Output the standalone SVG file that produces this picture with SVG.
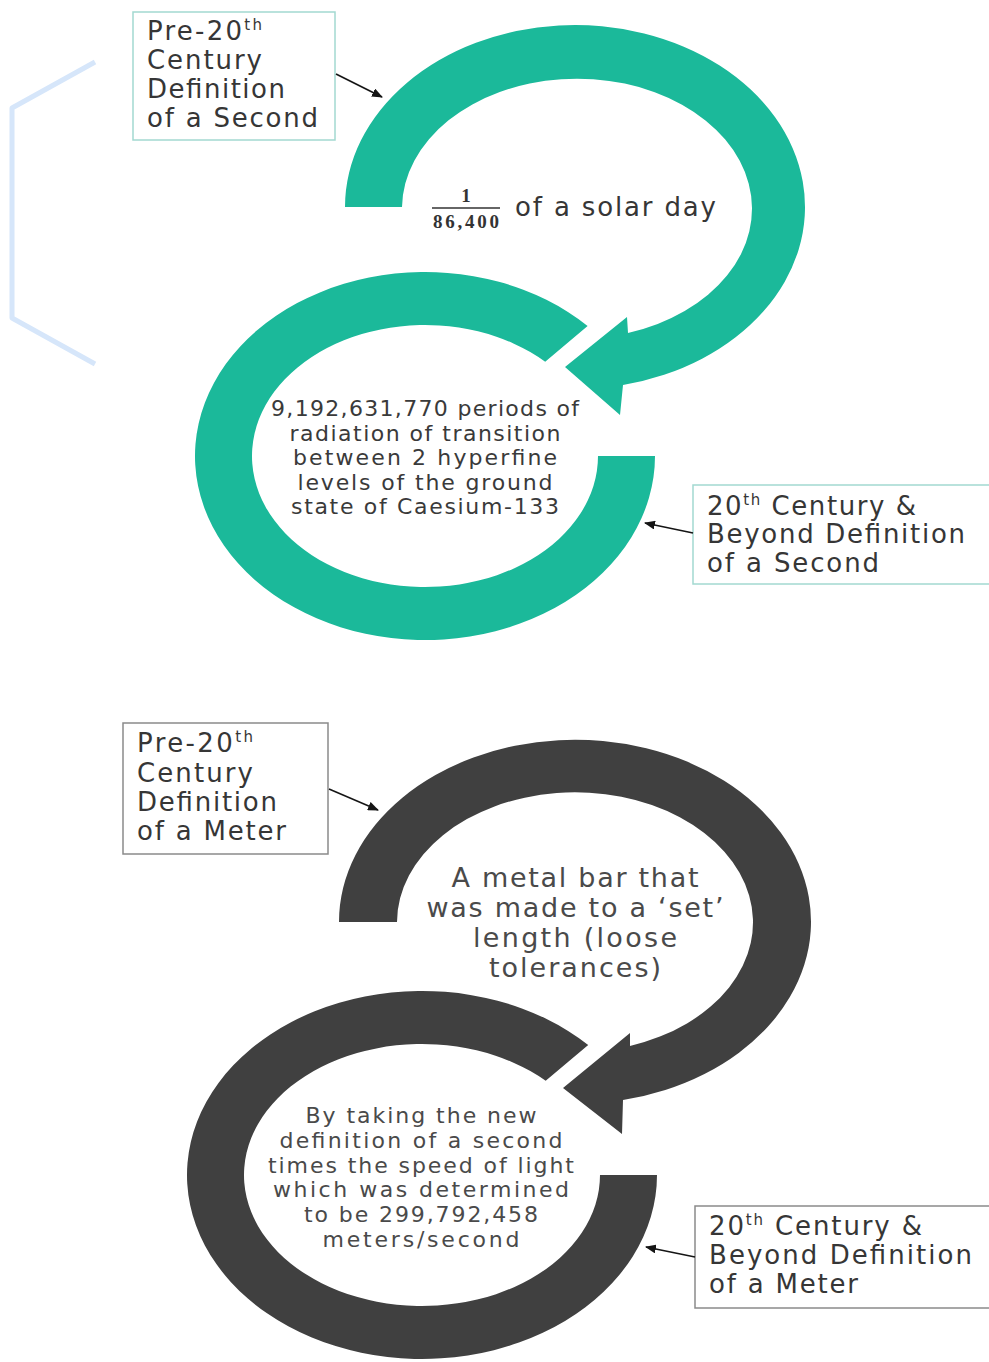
<svg xmlns="http://www.w3.org/2000/svg" width="989" height="1362" viewBox="0 0 989 1362">
<defs>
<style>
.bg{fill:#ffffff}
.teal{fill:#1bb99a}
.gray{fill:#404040}
.boxT{fill:#ffffff;stroke:#a3d9d1;stroke-width:1.5}
.boxG{fill:#ffffff;stroke:#8a8a8a;stroke-width:1.5}
.lbl{font-family:"DejaVu Sans","Liberation Sans",sans-serif;font-size:26px;fill:#363636}
.body{font-family:"DejaVu Sans","Liberation Sans",sans-serif;fill:#3a3a3a;text-anchor:middle}
.gbody{font-family:"DejaVu Sans","Liberation Sans",sans-serif;fill:#4a4a4a;text-anchor:middle}
.sup{font-size:15px}
.frac{font-family:"Liberation Serif","DejaVu Serif",serif;font-weight:bold;font-size:19px;fill:#333;text-anchor:middle}
.conn{stroke:#151515;stroke-width:1.6;fill:none;marker-end:url(#ah)}
.hex{fill:none;stroke:#d6e6fa;stroke-width:5;stroke-linejoin:round}
</style>
<marker id="ah" markerUnits="userSpaceOnUse" markerWidth="11" markerHeight="9" refX="10" refY="4.5" orient="auto">
<path d="M0,0 L11,4.5 L0,9 z" fill="#151515"/>
</marker>
</defs>
<rect class="bg" x="0" y="0" width="989" height="1362"/>

<polyline class="hex" points="95,62 12,108 12,318 95,364"/>

<g id="ring-second-pre">
<path class="teal" d="M345,207 A230 182 0 1 1 623,385 L620,415 L565,367 L627,317 L628,333 A175 130 0 1 0 402,207 Z"/>
</g>
<g id="ring-second-modern">
<path class="teal" d="M587.6,325.9 A230 184 0 1 0 655,456 L598,456 A173 131 0 1 1 545.2,361.8 Z"/>
</g>
<g id="ring-meter-pre">
<path class="gray" d="M339,922 A236 182 0 1 1 623,1100 L622,1134 L563,1088 L630,1033 L630,1046 A178 130 0 1 0 397,922 Z"/>
</g>
<g id="ring-meter-modern">
<path class="gray" d="M588.2,1044.9 A235 184 0 1 0 657,1175 L600,1175 A178 131 0 1 1 545.7,1080.8 Z"/>
</g>

<g id="label-second-pre">
<rect class="boxT" x="133" y="12" width="202" height="128"/>
<text class="lbl" x="147" y="40" textLength="115" lengthAdjust="spacing">Pre-20<tspan class="sup" dy="-10">th</tspan></text>
<text class="lbl" x="147" y="69" textLength="115" lengthAdjust="spacing">Century</text>
<text class="lbl" x="147" y="98" textLength="138" lengthAdjust="spacing">Definition</text>
<text class="lbl" x="147" y="127" textLength="171" lengthAdjust="spacing">of a Second</text>
</g>

<g id="text-solar-day">
<text class="frac" x="466" y="202">1</text>
<line x1="432" y1="208" x2="500" y2="208" stroke="#333" stroke-width="1.6"/>
<text class="frac" x="466" y="228" textLength="66" lengthAdjust="spacing">86,400</text>
<text class="lbl" x="515" y="216" font-size="28" textLength="201" lengthAdjust="spacing" fill="#3a3a3a">of a solar day</text>
</g>

<g id="text-caesium">
<text class="body" font-size="22" x="425" y="416" textLength="308" lengthAdjust="spacing">9,192,631,770 periods of</text>
<text class="body" font-size="22" x="425" y="440.5" textLength="271" lengthAdjust="spacing">radiation of transition</text>
<text class="body" font-size="22" x="425" y="465" textLength="264" lengthAdjust="spacing">between 2 hyperfine</text>
<text class="body" font-size="22" x="425" y="489.5" textLength="255" lengthAdjust="spacing">levels of the ground</text>
<text class="body" font-size="22" x="425" y="514" textLength="268" lengthAdjust="spacing">state of Caesium-133</text>
</g>

<g id="label-second-modern">
<rect class="boxT" x="693" y="485" width="310" height="99"/>
<text class="lbl" x="707" y="515" textLength="209" lengthAdjust="spacing">20<tspan class="sup" dy="-10">th</tspan><tspan dy="10"> Century &amp;</tspan></text>
<text class="lbl" x="707" y="543" textLength="258" lengthAdjust="spacing">Beyond Definition</text>
<text class="lbl" x="707" y="572" textLength="172" lengthAdjust="spacing">of a Second</text>
</g>

<g id="label-meter-pre">
<rect class="boxG" x="123" y="723" width="205" height="131"/>
<text class="lbl" x="137" y="752" textLength="116" lengthAdjust="spacing">Pre-20<tspan class="sup" dy="-10">th</tspan></text>
<text class="lbl" x="137" y="782" textLength="116" lengthAdjust="spacing">Century</text>
<text class="lbl" x="137" y="811" textLength="140" lengthAdjust="spacing">Definition</text>
<text class="lbl" x="137" y="840" textLength="149" lengthAdjust="spacing">of a Meter</text>
</g>

<g id="text-metal-bar">
<text class="gbody" font-size="27" x="575" y="887" textLength="247" lengthAdjust="spacing">A metal bar that</text>
<text class="gbody" font-size="27" x="575" y="917" textLength="297" lengthAdjust="spacing">was made to a ‘set’</text>
<text class="gbody" font-size="27" x="575" y="947" textLength="204" lengthAdjust="spacing">length (loose</text>
<text class="gbody" font-size="27" x="575" y="977" textLength="172" lengthAdjust="spacing">tolerances)</text>
</g>

<g id="text-speed-of-light">
<text class="gbody" font-size="22" x="421" y="1123" textLength="231" lengthAdjust="spacing">By taking the new</text>
<text class="gbody" font-size="22" x="421" y="1148" textLength="283" lengthAdjust="spacing">definition of a second</text>
<text class="gbody" font-size="22" x="421" y="1172.5" textLength="306" lengthAdjust="spacing">times the speed of light</text>
<text class="gbody" font-size="22" x="421" y="1197" textLength="296" lengthAdjust="spacing">which was determined</text>
<text class="gbody" font-size="22" x="421" y="1222" textLength="234" lengthAdjust="spacing">to be 299,792,458</text>
<text class="gbody" font-size="22" x="421" y="1247" textLength="197" lengthAdjust="spacing">meters/second</text>
</g>

<g id="label-meter-modern">
<rect class="boxG" x="695" y="1206" width="310" height="102"/>
<text class="lbl" x="709" y="1235" textLength="213" lengthAdjust="spacing">20<tspan class="sup" dy="-10">th</tspan><tspan dy="10"> Century &amp;</tspan></text>
<text class="lbl" x="709" y="1264" textLength="263" lengthAdjust="spacing">Beyond Definition</text>
<text class="lbl" x="709" y="1293" textLength="149" lengthAdjust="spacing">of a Meter</text>
</g>

<g id="connectors">
<line class="conn" x1="336" y1="74" x2="382" y2="97"/>
<line class="conn" x1="693" y1="533" x2="645" y2="523"/>
<line class="conn" x1="329" y1="789" x2="378" y2="810"/>
<line class="conn" x1="695" y1="1257" x2="646" y2="1247"/>
</g>
</svg>
